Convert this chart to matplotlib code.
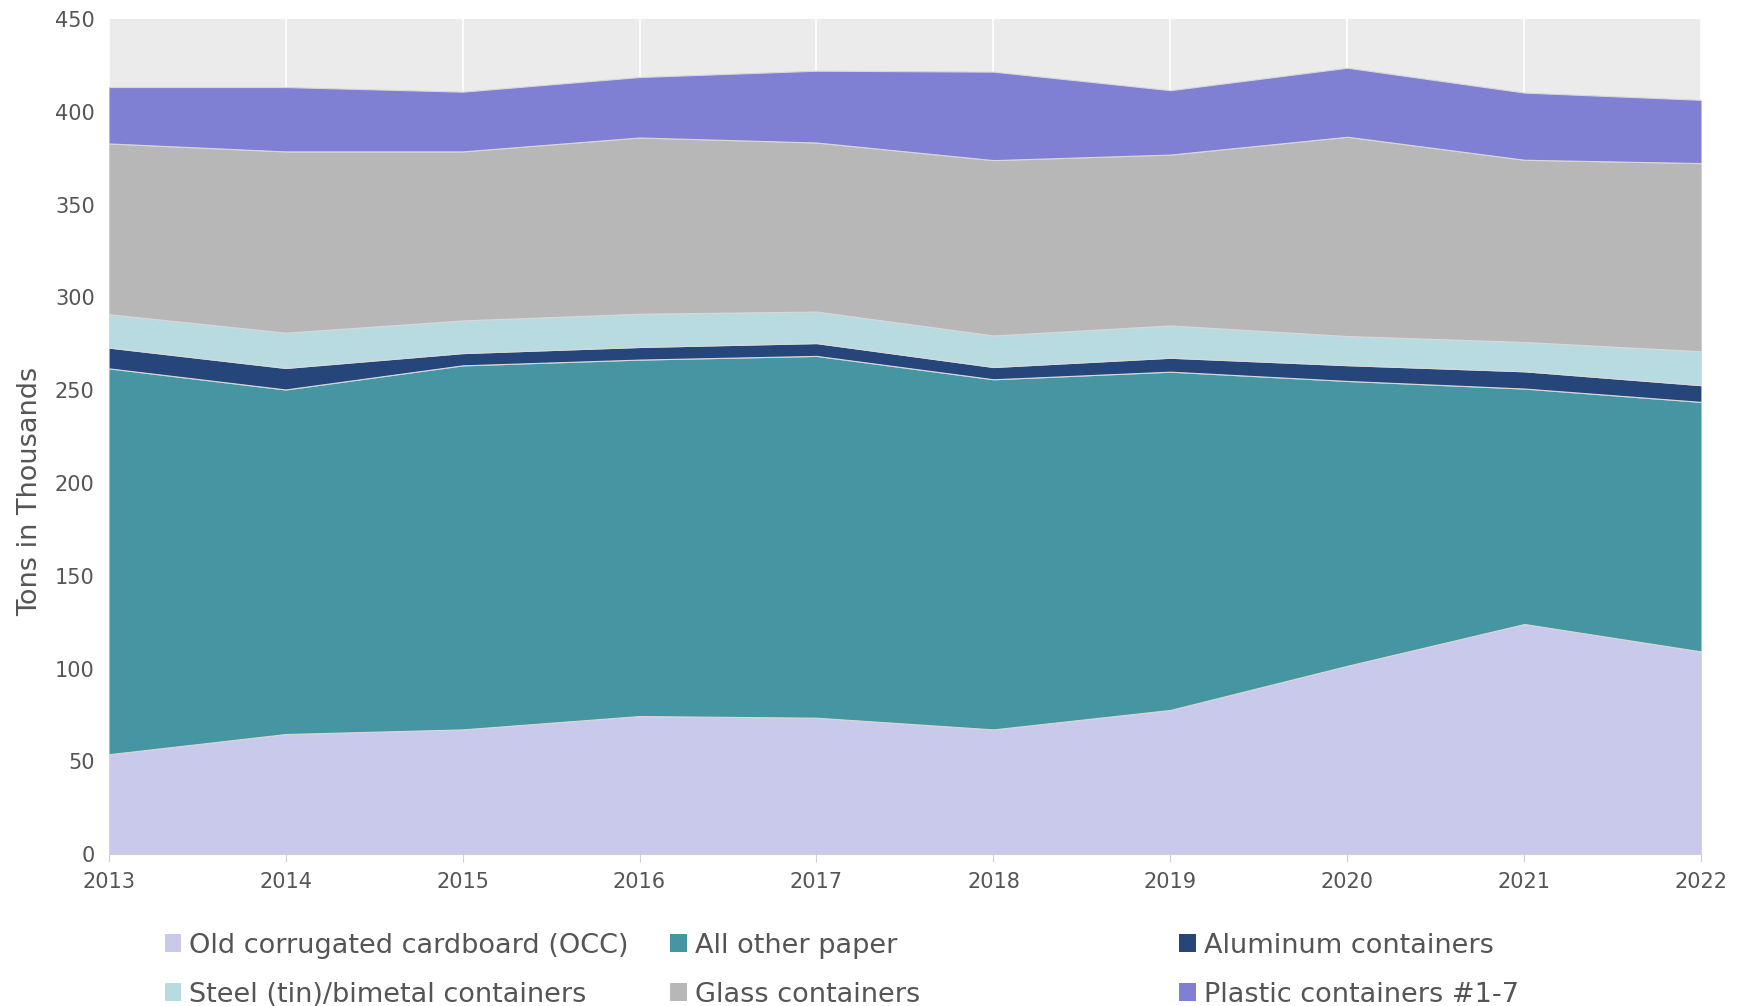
import matplotlib
matplotlib.use("Agg")
import matplotlib.pyplot as plt
from matplotlib.patches import Patch
import numpy as np

years = [2013, 2014, 2015, 2016, 2017, 2018, 2019, 2020, 2021, 2022]
occ = [53.8, 64.7, 67.2, 74.4, 73.5, 67.2, 77.7, 101.5, 124.0, 109.2]
other_paper = [208.0, 185.7, 196.2, 192.1, 195.0, 188.7, 182.3, 153.5, 126.9, 134.5]
aluminum = [11.2, 11.6, 6.6, 6.8, 6.9, 6.6, 7.5, 8.5, 9.3, 9.0]
steel = [18.0, 19.0, 17.6, 17.9, 17.0, 17.0, 17.4, 15.7, 15.8, 18.3]
glass = [92.0, 97.7, 91.1, 95.0, 91.1, 94.5, 92.1, 107.4, 98.2, 101.4]
plastic = [30.4, 34.7, 32.2, 32.6, 38.7, 47.7, 34.7, 37.2, 36.2, 34.1]

labels = ["Old corrugated cardboard (OCC)", "All other paper", "Aluminum containers",
          "Steel (tin)/bimetal containers", "Glass containers", "Plastic containers #1-7"]
colors = ["#c9c9ec", "#4596a2", "#26457a", "#b7dbe0", "#b7b7b7", "#7f7fd3"]
yticks = [0, 50, 100, 150, 200, 250, 300, 350, 400, 450]

fig = plt.figure(figsize=(17.37, 10.06), dpi=100)
ax = fig.add_axes([0.0625, 0.151, 0.917, 0.830])
ax.set_facecolor("#ebebeb")

series = [occ, other_paper, aluminum, steel, glass, plastic]
ax.stackplot(years, *series, colors=colors, labels=labels,
             edgecolor="#d8d8d8", linewidth=0.8, zorder=2)

ax.set_xlim(years[0], years[-1])
ax.set_ylim(0, 450)
ax.set_xticks(years)
ax.set_yticks(yticks)
ax.grid(axis="x", color="white", linewidth=1.2, zorder=1)
ax.grid(axis="y", visible=False)
ax.set_axisbelow(True)
for s in ["top", "right", "left"]:
    ax.spines[s].set_visible(False)
ax.spines["bottom"].set_color("#d0d0d0")
ax.tick_params(axis="x", colors="#d0d0d0", length=6, labelcolor="#555555", labelsize=15, pad=7)
ax.tick_params(axis="y", length=0, labelcolor="#555555", labelsize=15, pad=10)
ax.set_ylabel("Tons in Thousands", fontsize=19.5, color="#555555")
ax.yaxis.set_label_coords(-0.041, 0.435)

handles = [Patch(facecolor=c, edgecolor="none") for c in colors]
col_x = [0.095, 0.386, 0.679]
col_idx = [[0, 3], [1, 4], [2, 5]]
for x, idx in zip(col_x, col_idx):
    leg = fig.legend([handles[i] for i in idx], [labels[i] for i in idx],
                     loc="upper left", bbox_to_anchor=(x, 0.073), frameon=False,
                     fontsize=19.5, handlelength=0.6, handleheight=0.6,
                     handletextpad=0.3, labelspacing=0.85, borderaxespad=0, borderpad=0)
    for t in leg.get_texts():
        t.set_color("#555555")

fig.savefig("out.png", dpi=100)
